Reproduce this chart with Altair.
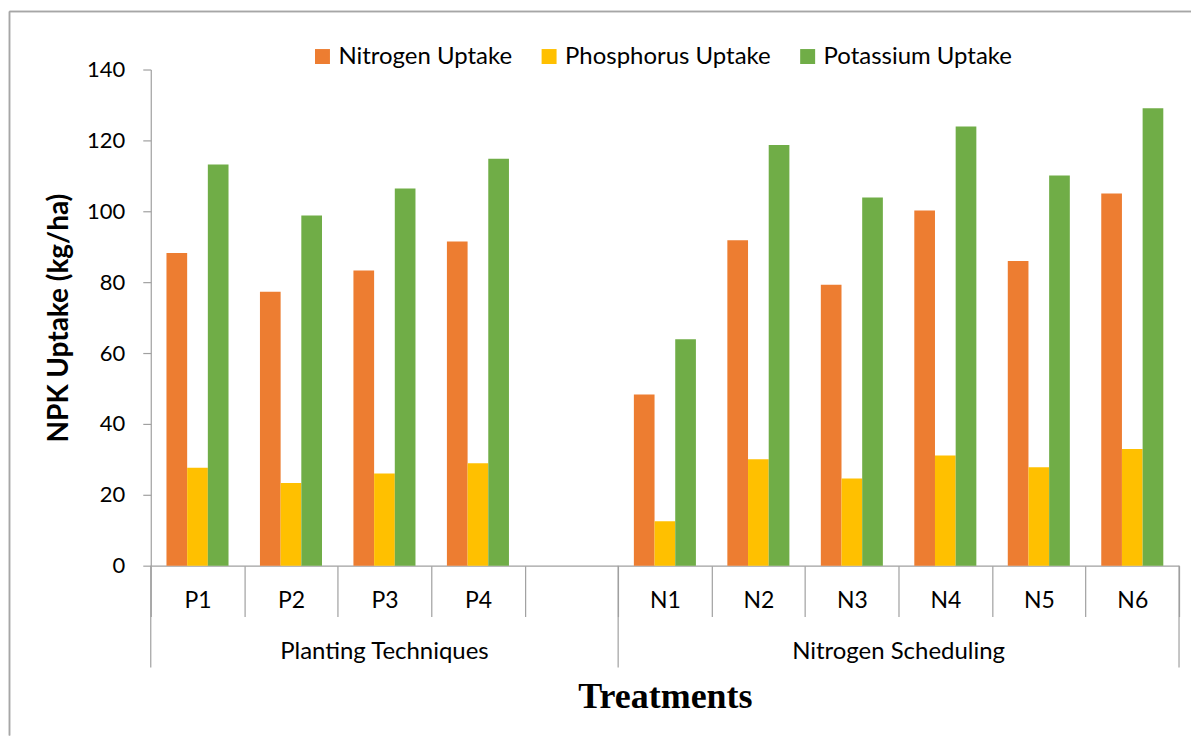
import altair as alt
import pandas as pd
import numpy as np

# ---- data ----
treatments = ["P1", "P2", "P3", "P4", "N1", "N2", "N3", "N4", "N5", "N6"]
slot_order = ["P1", "P2", "P3", "P4", " ", "N1", "N2", "N3", "N4", "N5", "N6"]
series_names = ["Nitrogen Uptake", "Phosphorus Uptake", "Potassium Uptake"]
nitrogen = [88.2, 77.3, 83.3, 91.5, 48.3, 91.8, 79.3, 100.2, 86.0, 105.0]
phosphorus = [27.6, 23.3, 26.0, 28.9, 12.5, 30.0, 24.6, 31.1, 27.8, 32.9]
potassium = [113.2, 98.8, 106.4, 114.8, 63.9, 118.7, 103.9, 123.9, 110.1, 129.1]
series_colors = ["#ED7D31", "#FFC000", "#70AD47"]
group_names = ["Planting Techniques", "Nitrogen Scheduling"]
group_sizes = [5, 6]  # number of category slots in each group
y_ticks = [0, 20, 40, 60, 80, 100, 120, 140]

rows = []
for s, vals in zip(series_names, [nitrogen, phosphorus, potassium]):
    for t, v in zip(treatments, vals):
        rows.append({"treatment": t, "series": s, "value": v})
df = pd.DataFrame(rows)

ends = np.cumsum(group_sizes)
starts = ends - np.array(group_sizes)
gdf = pd.DataFrame({"group": group_names, "center": (starts + ends) / 2.0})
bdf = pd.DataFrame({"pos": sorted(set([0] + list(ends)))})
total_slots = int(ends[-1])

W, H = 1030, 497
AX = "#A0A0A0"
FONT = "Lato"

bars = alt.Chart(df).mark_bar().encode(
    x=alt.X("treatment:N",
            scale=alt.Scale(domain=slot_order, paddingInner=0, paddingOuter=0),
            axis=alt.Axis(title="Treatments", labelAngle=0, tickBand="extent",
                          tickSize=51, labelPadding=-16, labelBaseline="middle",
                          labelFont=FONT, labelFontSize=23, labelColor="#000000",
                          domainColor=AX, tickColor=AX, domainWidth=1.2, tickWidth=1.2,
                          titleFont="Liberation Serif", titleFontSize=36,
                          titleFontWeight="bold", titleColor="#000000",
                          titleX=W / 2, titleY=142, titleBaseline="alphabetic",
                          titleAlign="center")),
    xOffset=alt.XOffset("series:N",
                        scale=alt.Scale(domain=series_names, paddingOuter=0.76, paddingInner=0)),
    y=alt.Y("value:Q",
            scale=alt.Scale(domain=[0, 140], nice=False),
            axis=alt.Axis(values=y_ticks, grid=False, tickSize=8, labelPadding=18,
                          labelFont=FONT, labelFontSize=22, labelColor="#000000",
                          domainColor=AX, tickColor=AX, domainWidth=1.2, tickWidth=1.2,
                          title="NPK Uptake (kg/ha)", titleFont=FONT, titleFontSize=28,
                          titleFontWeight="bold", titleColor="#000000",
                          titleAngle=270, titleX=-91, titleY=H / 2,
                          titleBaseline="middle", titleAlign="center")),
    color=alt.Color("series:N",
                    scale=alt.Scale(domain=series_names, range=series_colors),
                    legend=alt.Legend(title=None, orient="none", direction="horizontal",
                                      legendX=160, legendY=-25, symbolType="square",
                                      symbolSize=225, symbolStrokeWidth=0,
                                      labelFont=FONT, labelFontSize=24, labelLimit=0,
                                      labelColor="#000000", labelOffset=4,
                                      columnPadding=24, padding=0)),
)

gscale = alt.Scale(domain=[0, total_slots], nice=False, zero=False)

group_rules = alt.Chart(bdf).mark_rule(color=AX, strokeWidth=1.2).encode(
    x=alt.X("pos:Q", scale=gscale, axis=None),
    y=alt.value(H),
    y2=alt.value(H + 102),
)

group_text = alt.Chart(gdf).mark_text(font=FONT, fontSize=24, color="#000000",
                                      baseline="middle", align="center").encode(
    x=alt.X("center:Q", scale=gscale, axis=None),
    y=alt.value(H + 86),
    text="group:N",
)

frame_left = alt.Chart(gdf).mark_rule(color="#A6A6A6", strokeWidth=1.5).encode(
    x=alt.value(-141.5), y=alt.value(-58), y2=alt.value(667))
frame_top = alt.Chart(gdf).mark_rule(color="#A6A6A6", strokeWidth=1.5).encode(
    x=alt.value(-141.5), x2=alt.value(1042), y=alt.value(-58))

chart = alt.layer(frame_left, frame_top, bars, group_rules, group_text).resolve_scale(
    x="independent"
).properties(
    width=W, height=H,
    padding={"left": 0, "top": 2, "right": 0, "bottom": 0},
).configure_view(strokeWidth=0)

chart.save("out.html", embed_options={"renderer": "svg", "actions": False})
